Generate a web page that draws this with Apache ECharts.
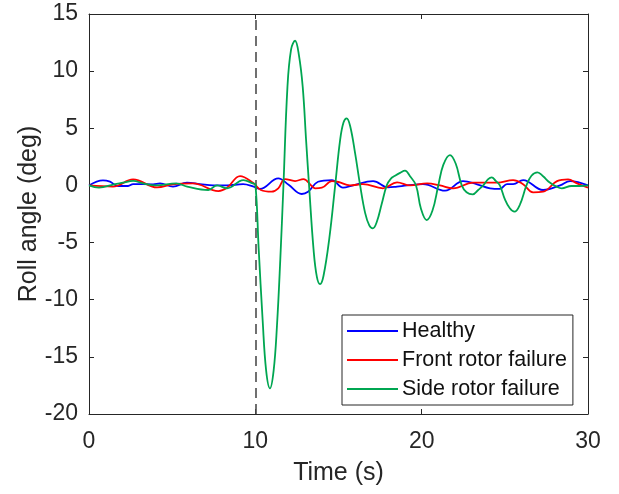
<!DOCTYPE html>
<html>
<head>
<meta charset="utf-8">
<script src="https://cdn.jsdelivr.net/npm/echarts@6/dist/echarts.min.js"></script>
<style>html,body{margin:0;padding:0;background:#fff}#c{width:619px;height:494px}</style>
</head>
<body>
<div id="c"></div>
<script>
var xTicks = [0, 10, 20, 30];
var yTicks = [-20, -15, -10, -5, 0, 5, 10, 15];
var seriesNames = ['Healthy', 'Front rotor failure', 'Side rotor failure'];
var failureTime = 10;

var healthy = [
  [0,0],[0.84,0.45],[1.26,0.33],[1.74,-0.05],[2.35,-0.05],[2.65,0.12],[3.85,0.1],[4.27,0.18],
  [5.05,-0.1],[5.89,0.24],[6.67,0.12],[7.46,0],[8.3,0],[9.26,0.12],[9.9,-0.1],[10.28,-0.3],
  [11.38,0.62],[12.0,0.05],[12.79,-0.75],[13.17,-0.55],[13.77,0.32],[14.6,0.47],[15.27,-0.2],
  [15.87,0],[17.08,0.38],[17.98,-0.17],[18.52,-0.1],[19.12,0],[20.08,0.12],[21.41,-0.46],
  [22.49,0.38],[23.33,0.1],[24.11,-0.25],[24.71,-0.3],[25.13,0.12],[25.5,0.12],[26.1,0.47],
  [27.3,-0.4],[28.32,0],[28.92,0.38],[30,0]
];
var frontFailure = [
  [0,0],[1.44,-0.1],[2.65,0.53],[4.09,-0.17],[5.05,0.1],[6.25,0.18],[7.78,-0.49],[8.3,-0.2],
  [9.08,0.82],[9.86,0.24],[10.33,-0.4],[10.98,-0.55],[11.38,-0.25],[11.79,0.56],[12.39,0.38],
  [12.89,0.56],[13.39,-0.05],[13.59,-0.25],[14.0,-0.2],[14.6,0.38],[15.0,0.3],[15.69,0],
  [16.47,0.12],[17.67,-0.25],[18.52,0.27],[19.3,0],[20.33,0.18],[21.1,0],[21.89,-0.25],
  [23.09,0.24],[24.53,0.24],[25.5,0.47],[26.1,0.1],[26.7,-0.6],[27.3,-0.55],[28.14,0.38],
  [28.8,0.53],[29.34,0.18],[30,-0.2]
];
var sideFailure = [
  [0,0],[0.6,-0.2],[1.5,0.1],[2.05,0.24],[2.65,0.4],[3.3,0.15],[4.05,0],[5.25,0.18],[5.9,-0.1],
  [7.17,-0.4],[7.7,0],[8.3,-0.25],[9.28,0.47],[9.85,0.18],[10.0,0.1],[10.2,-5.5],[10.44,-11.8],
  [10.65,-16.2],[10.88,-17.75],[11.1,-16.2],[11.3,-12.3],[11.5,-6.5],[11.69,0],[11.93,8.6],
  [12.15,11.9],[12.39,12.66],[12.62,11.4],[12.85,8.6],[13.05,4],[13.23,0],[13.5,-5.6],
  [13.7,-8],[13.89,-8.63],[14.1,-7.9],[14.45,-4.6],[14.8,0],[15.1,4],[15.3,5.5],[15.49,5.87],
  [15.7,5.2],[16.0,2.8],[16.3,0],[16.6,-2.4],[16.85,-3.5],[17.06,-3.76],[17.3,-3.2],[17.6,-1.6],
  [17.9,0],[18.15,0.6],[18.4,0.85],[18.7,1.1],[19.0,1.29],[19.3,0.8],[19.66,0],[19.95,-2],
  [20.3,-3.03],[20.65,-2.2],[21.0,0],[21.3,1.8],[21.7,2.66],[22.05,1.9],[22.41,0],[22.7,-0.6],
  [23.07,-0.78],[23.4,-0.4],[23.7,0],[24.0,0.55],[24.21,0.71],[24.45,0.4],[24.7,0],[25.0,-1.2],
  [25.3,-2.0],[25.58,-2.3],[25.9,-1.7],[26.3,0],[26.6,0.85],[26.96,1.15],[27.3,0.8],[27.7,0.25],
  [28.1,-0.1],[28.42,-0.25],[29.0,-0.05],[29.5,-0.05],[30,0]
];

var txt = '#262626';
var font = 'Liberation Sans';
var chart = echarts.init(document.getElementById('c'), null, {renderer: 'canvas'});

function baseX(show) {
  return {
    type: 'value', min: 0, max: 30, interval: 10,
    axisLine: {show: true, onZero: false, lineStyle: {color: txt, width: 1}},
    axisTick: {show: true, inside: true, length: 5, lineStyle: {color: txt}},
    axisLabel: {show: show, color: txt, fontSize: 23, fontFamily: font, margin: 16},
    splitLine: {show: false}
  };
}
function baseY(show) {
  return {
    type: 'value', min: -20, max: 15, interval: 5,
    axisLine: {show: true, onZero: false, lineStyle: {color: txt, width: 1}},
    axisTick: {show: true, inside: true, length: 5, lineStyle: {color: txt}},
    axisLabel: {show: show, color: txt, fontSize: 23, fontFamily: font, margin: 11},
    splitLine: {show: false}
  };
}
var xb = baseX(true);
xb.position = 'bottom';
xb.name = 'Time (s)';
xb.nameLocation = 'middle';
xb.nameGap = 47;
xb.nameMoveOverlap = false;
xb.nameTextStyle = {color: txt, fontSize: 25, fontFamily: font};
var xt = baseX(false);
xt.position = 'top';
var yl = baseY(true);
yl.position = 'left';
yl.name = 'Roll angle (deg)';
yl.nameLocation = 'middle';
yl.nameGap = 47;
yl.nameMoveOverlap = false;
yl.nameTextStyle = {color: txt, fontSize: 25, fontFamily: font};
var yr = baseY(false);
yr.position = 'right';

var colors = ['#0000ff', '#ff0000', '#00a651'];

chart.setOption({
  animation: false,
  backgroundColor: '#ffffff',
  textStyle: {fontFamily: font},
  grid: {left: 89, right: 31, top: 14, bottom: 80, containLabel: false},
  xAxis: [xb, xt],
  yAxis: [yl, yr],
  legend: {
    data: seriesNames,
    orient: 'vertical',
    left: 342, top: 315,
    itemWidth: 51, itemHeight: 14, itemGap: 7,
    padding: [5, 6, 5, 5],
    borderColor: txt, borderWidth: 1, borderRadius: 0,
    backgroundColor: '#ffffff',
    textStyle: {color: '#111', fontSize: 21.5, fontFamily: font, lineHeight: 21, padding: [0, 0, 0, -1]},
    icon: 'path://M0,6 L51,6 L51,8 L0,8 Z'
  },
  series: [
    {name: seriesNames[0], type: 'line', data: healthy, smooth: 0.4, showSymbol: false, symbol: 'none',
     lineStyle: {color: colors[0], width: 1.8}, itemStyle: {color: colors[0]}, z: 3},
    {name: seriesNames[1], type: 'line', data: frontFailure, smooth: 0.4, showSymbol: false, symbol: 'none',
     lineStyle: {color: colors[1], width: 1.8}, itemStyle: {color: colors[1]}, z: 4},
    {name: seriesNames[2], type: 'line', data: sideFailure, smooth: 0.4, showSymbol: false, symbol: 'none',
     lineStyle: {color: colors[2], width: 1.8}, itemStyle: {color: colors[2]}, z: 5,
     markLine: {silent: true, symbol: 'none', label: {show: false},
       lineStyle: {color: '#4d4d4d', type: [10, 6], width: 1.6},
       data: [{xAxis: failureTime}]}}
  ]
});
</script>
</body>
</html>
